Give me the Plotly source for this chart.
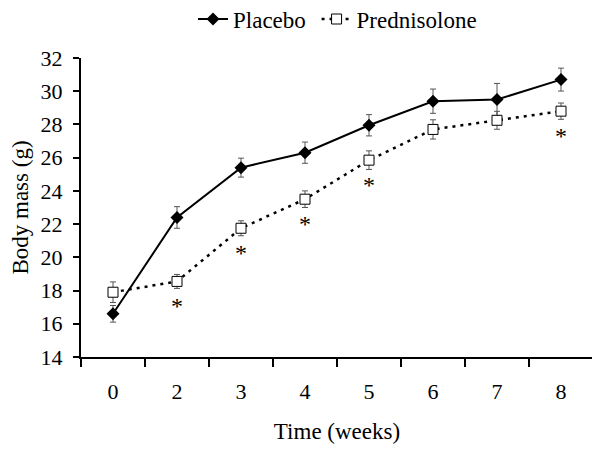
import plotly.graph_objects as go

weeks = ["0", "2", "3", "4", "5", "6", "7", "8"]
placebo = [16.6, 22.4, 25.4, 26.3, 27.95, 29.4, 29.5, 30.7]
placebo_err = [0.5, 0.65, 0.57, 0.64, 0.64, 0.73, 0.97, 0.69]
pred = [17.9, 18.55, 21.75, 23.5, 25.85, 27.7, 28.25, 28.8]
pred_err = [0.62, 0.42, 0.45, 0.5, 0.56, 0.58, 0.54, 0.49]
significant = [False, True, True, True, True, False, False, True]
y_ticks = [14, 16, 18, 20, 22, 24, 26, 28, 30, 32]

FONT = "Liberation Serif"

fig = go.Figure()
fig.add_trace(go.Scatter(
    x=weeks, y=placebo, name="Placebo\u00a0", mode="lines+markers",
    line=dict(color="black", width=2),
    marker=dict(symbol="diamond", size=10, color="black"),
    error_y=dict(type="data", array=placebo_err, color="#555555", thickness=1, width=3),
))
fig.add_trace(go.Scatter(
    x=weeks, y=pred, name="Prednisolone", mode="lines+markers",
    line=dict(color="black", width=2.5, dash="3px,5px"),
    marker=dict(symbol="square", size=10, color="white", line=dict(color="black", width=1)),
    error_y=dict(type="data", array=pred_err, color="#555555", thickness=1, width=3),
))

for i, (v, s) in enumerate(zip(pred, significant)):
    if s:
        fig.add_annotation(x=i, y=v, text="*", showarrow=False, yshift=-25,
                           font=dict(family=FONT, size=24, color="black"))

# the page body adds an 8px margin, so the figure is sized to fit the window
fig.update_layout(
    width=592, height=442,
    margin=dict(l=73, r=7, t=50, b=93),
    paper_bgcolor="white", plot_bgcolor="white",
    font=dict(family=FONT, size=22, color="black"),
    showlegend=True,
    legend=dict(orientation="h", x=0.3125, xanchor="left", y=0.975, yanchor="middle",
                yref="container", xref="container",
                font=dict(family=FONT, size=23), itemwidth=30,
                bgcolor="rgba(0,0,0,0)"),
    xaxis=dict(type="category", categoryorder="array", categoryarray=weeks,
               range=[-0.5, 7.5], tickson="boundaries", automargin=False,
               showline=True, linecolor="black", linewidth=2,
               ticks="outside", ticklen=8, tickwidth=2, tickcolor="black",
               showgrid=False, zeroline=False, ticklabelstandoff=14,
               tickfont=dict(size=22),
               title=dict(text="Time (weeks)", font=dict(size=23), standoff=19)),
    yaxis=dict(range=[14, 32], tickvals=y_ticks, automargin=False,
               showline=True, linecolor="black", linewidth=2,
               ticks="outside", ticklen=6, tickwidth=2, tickcolor="black",
               showgrid=False, zeroline=False, ticklabelstandoff=6,
               tickfont=dict(size=22),
               title=dict(text="Body mass (g)", font=dict(size=23), standoff=14)),
)

fig.write_html("out.html")
